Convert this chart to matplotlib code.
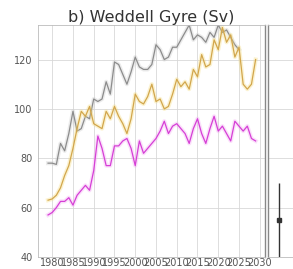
import numpy as np
import matplotlib
matplotlib.use("Agg")
import matplotlib.pyplot as plt
import matplotlib.patheffects as pe

# data
years_gray = list(range(1979, 2026))
gray = [78, 78, 77.5, 86, 83, 90, 99, 91, 92, 97, 96, 104, 103, 104, 111, 106,
        119, 118, 114, 110, 115, 121, 117, 116, 116, 118, 126, 124, 120, 121,
        125, 125, 128, 131, 134, 128, 130, 129, 127, 131, 129, 134, 131, 132,
        129, 126, 124]

years = list(range(1979, 2030))
orange = [63, 63.5, 65, 68, 73, 77, 84, 92, 99, 97, 101, 94, 93, 92, 99, 96,
          101, 97, 94, 90, 96, 106, 103, 102, 105, 110, 103, 104, 100, 101,
          106, 112, 109, 111, 108, 116, 113, 122, 117, 118, 128, 124, 133, 127,
          130, 121, 125, 110, 108, 110, 120]
magenta = [57, 58, 60, 62.5, 62.5, 64, 61, 65, 67, 69, 67, 75, 89, 84, 77, 77,
           85, 85, 87, 88, 84, 77, 87, 82, 84, 86, 88, 91, 95, 90, 93, 94, 92,
           90, 86, 92, 96, 90, 86, 92, 97, 91, 93, 90, 87, 95, 93, 91, 93, 88, 87]

err_center = 55
err_low = 40
err_high = 70

xticks = list(range(1980, 2031, 5))
yticks = [40, 60, 80, 100, 120]

fig = plt.figure(figsize=(2.93, 2.69), dpi=100)
ax = fig.add_axes([0.130, 0.045, 0.775, 0.862])
ax2 = fig.add_axes([0.915, 0.045, 0.2, 0.862])

def glow(c):
    return [pe.Stroke(linewidth=3, foreground=c, alpha=0.35), pe.Normal()]

ax.plot(years_gray, gray, color="#8c8c8c", lw=0.9, path_effects=glow("#c8c8c8"))
ax.plot(years, orange, color="#d2a64c", lw=0.9, path_effects=glow("#f5dc7a"))
ax.plot(years, magenta, color="#d63fd6", lw=0.9, path_effects=glow("#f3a6f3"))

ax.set_xlim(1976.6, 2031.3)
ax.set_ylim(40, 134)
ax.set_xticks(xticks)
ax.set_yticks(yticks)
ax.grid(True, color="#d8d8d8", lw=0.6)
ax.set_axisbelow(True)
ax.tick_params(labelsize=7, length=0, pad=0.5, colors="#555555")
ax.tick_params(axis="y", pad=4)
for s in ax.spines.values():
    s.set_color("#bbbbbb")
    s.set_linewidth(0.6)
ax.spines["right"].set_color("#888888")
ax.spines["right"].set_linewidth(1.0)
ax.set_title("b) Weddell Gyre (Sv)", fontsize=11.5, pad=1, color="#333333")

ax2.errorbar([0.5], [err_center],
             yerr=[[err_center - err_low], [err_high - err_center]],
             fmt="s", ms=2.5, color="#333333", lw=1.0, capsize=0)
ax2.set_xlim(0, 2.8)
ax2.set_ylim(40, 134)
ax2.set_yticks(yticks)
ax2.set_xticks([])
ax2.tick_params(labelleft=False, length=0)
ax2.grid(True, axis="y", color="#d8d8d8", lw=0.6)
ax2.set_axisbelow(True)
for s in ax2.spines.values():
    s.set_color("#bbbbbb")
    s.set_linewidth(0.6)
ax2.spines["left"].set_color("#888888")
ax2.spines["left"].set_linewidth(1.0)

plt.savefig("out.png", dpi=100)
